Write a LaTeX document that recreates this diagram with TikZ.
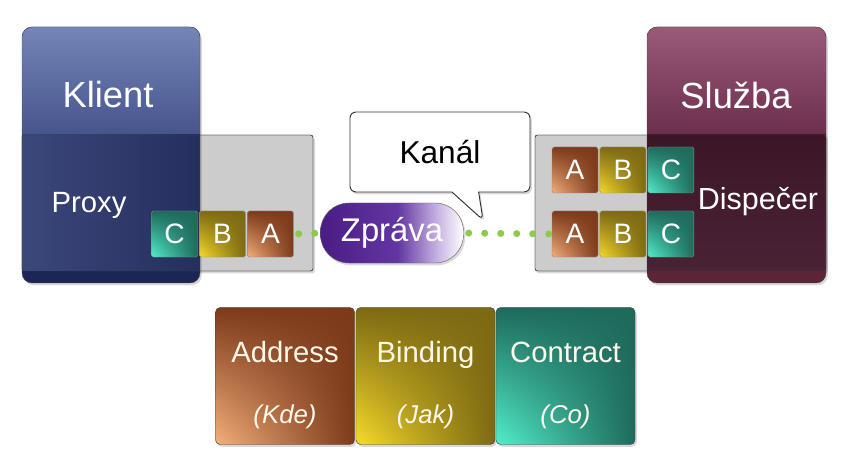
\documentclass[tikz,border=0pt]{standalone}
\usepackage{fontspec}
\setmainfont{Liberation Sans}
\usetikzlibrary{arrows.meta, positioning, calc, shapes.callouts, shadows, shadings}

\definecolor{klientTop}{HTML}{7485B7}
\definecolor{klientMid}{HTML}{46548C}
\definecolor{klientLowL}{HTML}{3C477A}
\definecolor{klientLowR}{HTML}{252F5E}
\definecolor{klientBot}{HTML}{1C2656}
\definecolor{sluzbaTop}{HTML}{9A5A78}
\definecolor{sluzbaMid}{HTML}{6B2E4C}
\definecolor{sluzbaLowT}{HTML}{3C1627}
\definecolor{sluzbaLowB}{HTML}{4A2236}
\definecolor{sluzbaBot}{HTML}{5C2438}
\definecolor{addrDark}{HTML}{7C3A1A}
\definecolor{addrLight}{HTML}{F6B07C}
\definecolor{bindDark}{HTML}{7D6913}
\definecolor{bindLight}{HTML}{F7DC2A}
\definecolor{contDark}{HTML}{1E6A5B}
\definecolor{contLight}{HTML}{52F0CC}
\definecolor{zpravaDark}{HTML}{4A1C84}
\definecolor{zpravaMid}{HTML}{6236A2}
\definecolor{zpravaPale}{HTML}{C8B4E2}
\definecolor{dotGreen}{HTML}{8CCB4A}
\definecolor{legText}{HTML}{FFF8EA}

\pgfdeclarehorizontalshading{zpravafade}{100bp}{color(0bp)=(zpravaDark); color(25bp)=(zpravaDark);
  color(52bp)=(zpravaMid); color(66bp)=(zpravaPale); color(75bp)=(white); color(100bp)=(white)}

\tikzset{
  softshadow/.style={drop shadow={opacity=0.3, shadow xshift=1.5pt, shadow yshift=-2pt}},
  graybox/.style={fill=black!20, draw=black!75, rounded corners=2pt, softshadow},
  bigtxt/.style={text=white, font=\fontsize{31}{31}\selectfont},
  midtxt/.style={text=white, font=\fontsize{25}{25}\selectfont},
  blk/.style={draw=black!45, rounded corners=1.5pt, minimum width=1.38cm,
    minimum height=1.38cm, inner sep=0pt, text=white, font=\fontsize{24}{24}\selectfont},
  blkA/.style={blk, lower left=addrLight, lower right=addrDark, upper left=addrDark, upper right=addrDark},
  blkB/.style={blk, lower left=bindLight, lower right=bindDark, upper left=bindDark, upper right=bindDark},
  blkC/.style={blk, lower left=contLight, lower right=contDark, upper left=contDark, upper right=contDark},
  legbox/.style={draw=black!75, rounded corners=4pt, minimum width=4.17cm,
    minimum height=4.11cm, softshadow},
  legtxt/.style={text=legText, align=center, font=\fontsize{25}{30}\selectfont},
  dots/.style={dotGreen, line width=6pt, line cap=round, dash pattern=on 0pt off 0.48cm,
    shorten <=0.15cm},
}

\begin{document}
\begin{tikzpicture}[x=0.03cm, y=-0.03cm]
  \useasboundingbox (0,0) rectangle (847,458);

  % LEFT: Klient + Proxy
  \draw[graybox] (22,135) rectangle (313,271);
  \path[rounded corners=0.3cm, fill=klientBot, softshadow] (22,27) rectangle (200,283);
  \begin{scope}
    \clip[rounded corners=0.3cm] (22,27) rectangle (200,283);
    \shade[top color=klientTop, bottom color=klientMid] (22,27) rectangle (200,135);
    \shade[left color=klientLowL, right color=klientLowR] (22,135) rectangle (200,271);
  \end{scope}
  \draw[black!70, rounded corners=0.3cm] (22,27) rectangle (200,283);
  \draw[black!75, rounded corners=2pt] (22,135) rectangle (313,271);
  \node[bigtxt] (klient) at (108,95) {Klient};
  \node[midtxt] (proxy) at (89,205) {Proxy};

  \node[blkC] (lC) at (174.5,234) {C};
  \node[blkB, right=0.045cm of lC] (lB) {B};
  \node[blkA, right=0.045cm of lB] (lA) {A};

  % RIGHT: Sluzba + Dispecer
  \draw[graybox] (535,135) rectangle (826,271);
  \path[rounded corners=0.3cm, fill=sluzbaBot, softshadow] (647,27) rectangle (826,283);
  \begin{scope}
    \clip[rounded corners=0.3cm] (647,27) rectangle (826,283);
    \shade[top color=sluzbaTop, bottom color=sluzbaMid] (647,27) rectangle (826,135);
    \shade[top color=sluzbaLowT, bottom color=sluzbaLowB] (647,135) rectangle (826,271);
  \end{scope}
  \draw[black!70, rounded corners=0.3cm] (647,27) rectangle (826,283);
  \draw[black!75, rounded corners=2pt] (535,135) rectangle (826,271);
  \node[bigtxt] (sluzba) at (736,95) {Služba};
  \node[text=white, font=\fontsize{26}{26}\selectfont] (dispecer) at (758,202) {Dispečer};

  \node[blkA] (rA1) at (575,170) {A};
  \node[blkB, right=0.045cm of rA1] (rB1) {B};
  \node[blkC, right=0.045cm of rB1] (rC1) {C};
  \node[blkA] (rA2) at (575,234) {A};
  \node[blkB, right=0.045cm of rA2] (rB2) {B};
  \node[blkC, right=0.045cm of rB2] (rC2) {C};

  % MIDDLE: message and channel
  \node[draw=black!60, rounded corners=0.85cm, minimum width=4.29cm, minimum height=1.8cm,
    shading=zpravafade, softshadow,
    text=white, font=\fontsize{28}{28}\selectfont] (zprava) at (392,233) {Zpráva};
  \node[rectangle callout, callout absolute pointer={(483,220)}, callout pointer width=0.8cm,
    fill=white, draw=black!80, line width=0.8pt, rounded corners=0.18cm, softshadow,
    minimum width=5.4cm, minimum height=2.4cm, font=\fontsize{27}{27}\selectfont] (kanal) at (440,152) {Kanál};

  \draw[dots] (lA.east) -- (zprava.west);
  \draw[dots] (zprava.east) -- (rA2.west);

  % BOTTOM: legend
  \node[legbox, lower left=addrLight, lower right=addrDark, upper left=addrDark, upper right=addrDark] (addr) at (285,376) {};
  \node[legbox, lower left=bindLight, lower right=bindDark, upper left=bindDark, upper right=bindDark] (bind) at (425.5,376) {};
  \node[legbox, lower left=contLight, lower right=contDark, upper left=contDark, upper right=contDark] (cont) at (565.5,376) {};
  \node[legtxt] (addrtxt) at (285,385) {Address\\[22pt]{\fontsize{22}{30}\selectfont\itshape (Kde)}};
  \node[legtxt] (bindtxt) at (425.5,385) {Binding\\[22pt]{\fontsize{22}{30}\selectfont\itshape (Jak)}};
  \node[legtxt] (conttxt) at (565.5,385) {Contract\\[22pt]{\fontsize{22}{30}\selectfont\itshape (Co)}};
\end{tikzpicture}
\end{document}
